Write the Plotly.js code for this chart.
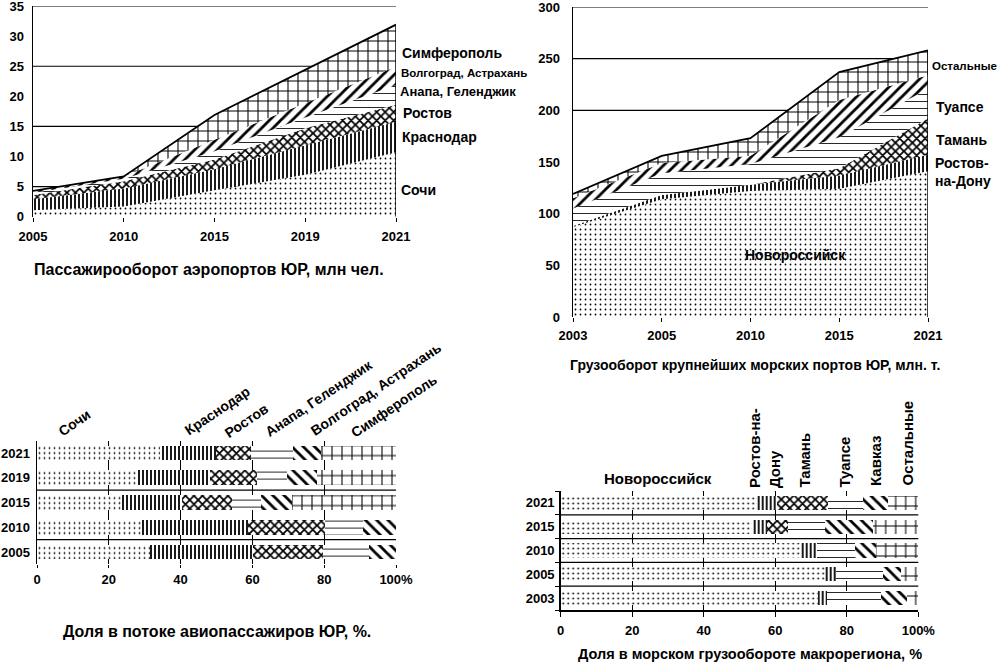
<!DOCTYPE html>
<html><head><meta charset="utf-8">
<script src="https://cdn.plot.ly/plotly-3.0.1.min.js"></script>
<style>html,body{margin:0;padding:0;background:#fff}#chart{width:999px;height:664px}</style>
</head><body><div id="chart"></div>
<script>
// ---- Top-left: airport passenger traffic, mln passengers
const airYears = ['2005', '2010', '2015', '2019', '2021'];
const airSochi = [1.1, 1.7, 4.4, 7.0, 10.7];
const airKrasnodar = [1.8, 3.0, 3.5, 4.9, 5.1];
const airRostov = [0.7, 1.2, 1.6, 2.8, 2.8];
const airAnapa = [0.4, 0.4, 1.4, 1.8, 3.3];
const airVolgograd = [0.3, 0.4, 1.9, 2.3, 3.0];
const airSimferopol = [0, 0, 4.1, 5.6, 7.0];
const airNames = ['Сочи', 'Краснодар', 'Ростов', 'Анапа, Геленджик', 'Волгоград, Астрахань', 'Симферополь'];

// ---- Top-right: cargo turnover of largest sea ports, mln t
const seaYears = ['2003', '2005', '2010', '2015', '2021'];
const seaNovorossiysk = [87, 114, 122, 124, 141];
const seaRostov = [1, 4, 6, 13, 16];
const seaTaman = [0, 0, 0, 7, 35];
const seaTuapse = [17, 21, 20, 30, 29];
const seaKavkaz = [10, 10, 8, 36, 13];
const seaOther = [4, 7, 17, 27, 24];
const seaNames = ['Новороссийск', 'Ростов-на-Дону', 'Тамань', 'Туапсе', 'Кавказ', 'Остальные'];

// ---- Bottom-left: share in air passenger flow, %
const airShareYears = ['2005', '2010', '2015', '2019', '2021'];
const shSochi = [31.6, 29.1, 23.8, 28.2, 34.2];
const shKrasnodar = [28.6, 29.7, 16.7, 19.9, 15.6];
const shRostov = [19.4, 21.4, 13.7, 13.2, 9.7];
const shAnapa = [13.0, 10.5, 8.2, 8.4, 11.7];
const shVolgograd = [7.4, 9.3, 8.5, 8.4, 7.8];
const shSimferopol = [0, 0, 29.1, 21.9, 21.0];

// ---- Bottom-right: share in sea cargo turnover, %
const seaShareYears = ['2003', '2005', '2010', '2015', '2021'];
const ssNovorossiysk = [72.0, 73.9, 67.2, 53.4, 55.0];
const ssRostov = [2.6, 3.0, 4.4, 4.2, 5.6];
const ssTaman = [0, 0, 0, 6.1, 14.2];
const ssTuapse = [15.1, 13.3, 10.7, 10.2, 9.6];
const ssKavkaz = [7.0, 5.1, 6.0, 13.5, 7.2];
const ssOther = [3.3, 4.7, 11.7, 12.6, 8.4];

const shareTicks = [0, 20, 40, 60, 80, 100];
const shareTickText = ['0', '20', '40', '60', '80', '100%'];
const airGridVals = [5, 15, 25, 35];
const seaGridVals = [200, 250, 300];

// ---------- styling helpers ----------
const W = 999, H = 664;
const px = v => v / W;
const py = v => 1 - v / H;
const FONT = 'Liberation Sans, Arial, sans-serif';
function pat(shape, size, solidity) {
  return {shape: shape, size: size, solidity: solidity, fgcolor: 'black', bgcolor: 'white', fgopacity: 1};
}
const areaPatterns = [pat('.', 5, 0.1), pat('|', 4, 0.45), pat('x', 6, 0.5), pat('-', 7, 0.12), pat('/', 8, 0.35), pat('+', 10, 0.2)];
const barPatterns = [pat('.', 5, 0.1), pat('|', 4, 0.45), pat('x', 6, 0.5), pat('-', 7, 0.12), pat('\\', 8, 0.35), pat('+', 10, 0.2)];

const traces = [];
function addArea(xs, series, names, xa, ya, group) {
  series.forEach((vals, i) => {
    traces.push({
      type: 'scatter', mode: 'lines', x: xs, y: vals, xaxis: xa, yaxis: ya,
      stackgroup: group, name: names[i], showlegend: false, hoverinfo: 'skip',
      line: {color: 'black', width: i === series.length - 1 ? 1.8 : 0},
      fillcolor: 'white', fillpattern: areaPatterns[i]
    });
  });
}
function addBars(ys, series, names, xa, ya) {
  series.forEach((vals, i) => {
    traces.push({
      type: 'bar', orientation: 'h', y: ys, x: vals, xaxis: xa, yaxis: ya,
      name: names[i], showlegend: false, hoverinfo: 'skip',
      marker: {color: 'white', line: {width: 0}, pattern: barPatterns[i]}
    });
  });
}
addArea(airYears, [airSochi, airKrasnodar, airRostov, airAnapa, airVolgograd, airSimferopol], airNames, 'x', 'y', 'air');
addArea(seaYears, [seaNovorossiysk, seaRostov, seaTaman, seaTuapse, seaKavkaz, seaOther], seaNames, 'x2', 'y2', 'sea');
addBars(airShareYears, [shSochi, shKrasnodar, shRostov, shAnapa, shVolgograd, shSimferopol], airNames, 'x3', 'y3');
addBars(seaShareYears, [ssNovorossiysk, ssRostov, ssTaman, ssTuapse, ssKavkaz, ssOther], seaNames, 'x4', 'y4');

const lastIdx = airYears.length - 1;
const airTotalLast = [airSochi, airKrasnodar, airRostov, airAnapa, airVolgograd, airSimferopol].reduce((s, a) => s + a[lastIdx], 0);
const seaTotalLast = [seaNovorossiysk, seaRostov, seaTaman, seaTuapse, seaKavkaz, seaOther].reduce((s, a) => s + a[seaYears.length - 1], 0);

const shapes = [];
airGridVals.forEach(v => shapes.push({type: 'line', layer: 'below', xref: 'x domain', yref: 'y', x0: 0, x1: 1, y0: v, y1: v, line: {color: 'black', width: 1.2}}));
seaGridVals.forEach(v => shapes.push({type: 'line', layer: 'below', xref: 'x2 domain', yref: 'y2', x0: 0, x1: 1, y0: v, y1: v, line: {color: 'black', width: 1.2}}));
shapes.push({type: 'line', layer: 'above', xref: 'x', yref: 'y', x0: lastIdx, x1: lastIdx, y0: 0, y1: airTotalLast, line: {color: 'black', width: 1.5}});
shapes.push({type: 'line', layer: 'above', xref: 'x2', yref: 'y2', x0: seaYears.length - 1, x1: seaYears.length - 1, y0: 0, y1: seaTotalLast, line: {color: 'black', width: 1.5}});
[0.5, 2.5].forEach(v => shapes.push({type: 'line', layer: 'above', xref: 'x3 domain', yref: 'y3', x0: 0, x1: 1, y0: v, y1: v, line: {color: 'black', width: 1.3}}));
[0.5, 1.5, 2.5, 3.5].forEach(v => shapes.push({type: 'line', layer: 'above', xref: 'x4 domain', yref: 'y4', x0: 0, x1: 1, y0: v, y1: v, line: {color: 'black', width: 1.2}}));

function ann(text, x, y, opts) {
  return Object.assign({text: text, x: px(x), y: py(y), xref: 'paper', yref: 'paper', showarrow: false,
    xanchor: 'center', yanchor: 'middle', font: {family: FONT, size: 14, color: 'black', weight: 'bold'}}, opts || {});
}
const f = (size) => ({family: FONT, size: size, color: 'black', weight: 'bold'});
const annotations = [
  // titles
  ann('Пассажирооборот аэропортов ЮР, млн чел.', 209, 270, {font: f(16)}),
  ann('Грузооборот крупнейших морских портов ЮР, млн. т.', 755, 365, {font: f(14)}),
  ann('Доля в потоке авиопассажиров ЮР, %.', 217, 631, {font: f(16)}),
  ann('Доля в морском грузообороте макрорегиона, %', 750, 654, {font: f(14.5)}),
  // top-left series labels
  ann('Симферополь', 400, 53, {xanchor: 'left', font: f(14)}),
  ann('Волгоград, Астрахань', 399, 73, {xanchor: 'left', font: f(11.5)}),
  ann('Анапа, Геленджик', 398, 91, {xanchor: 'left', font: f(13)}),
  ann('Ростов', 401, 113, {xanchor: 'left', font: f(14)}),
  ann('Краснодар', 400, 137, {xanchor: 'left', font: f(14)}),
  ann('Сочи', 399, 190, {xanchor: 'left', font: f(14)}),
  // top-right series labels
  ann('Остальные', 931, 66, {xanchor: 'left', font: f(11.5), borderpad: 0}),
  ann('Туапсе', 934, 107, {xanchor: 'left', font: f(14)}),
  ann('Тамань', 934, 140, {xanchor: 'left', font: f(14)}),
  ann('Ростов-<br>на-Дону', 933, 172, {xanchor: 'left', align: 'left', font: f(14)}),
  ann('Новороссийск', 795, 255, {font: f(14)}),
  // bottom-left rotated labels
  ann('Сочи', 74, 423, {textangle: -34}),
  ann('Краснодар', 217, 411, {textangle: -34}),
  ann('Ростов', 246, 421, {textangle: -34}),
  ann('Анапа, Геленджик', 319, 398, {textangle: -34}),
  ann('Волгоград, Астрахань', 376, 389, {textangle: -34}),
  ann('Симферополь', 394, 406, {textangle: -34}),
  // bottom-right labels
  ann('Новороссийск', 658, 478, {font: f(15)}),
  ann('Ростов-на-<br>Дону', 764, 490, {textangle: -90, yanchor: 'bottom', align: 'left', font: f(15)}),
  ann('Тамань', 804, 490, {textangle: -90, yanchor: 'bottom', font: f(15)}),
  ann('Туапсе', 844, 490, {textangle: -90, yanchor: 'bottom', font: f(15)}),
  ann('Кавказ', 875, 488, {textangle: -90, yanchor: 'bottom', font: f(15)}),
  ann('Остальные', 907, 488, {textangle: -90, yanchor: 'bottom', font: f(15)})
];

const tickFont = {family: FONT, size: 13, color: 'black', weight: 'bold'};
const layout = {
  width: W, height: H, margin: {l: 0, r: 0, t: 0, b: 0},
  paper_bgcolor: 'white', plot_bgcolor: 'white', showlegend: false,
  barmode: 'stack', bargap: 0.4,
  font: {family: FONT, size: 13, color: 'black', weight: 'bold'},
  xaxis: {domain: [px(33), px(396)], anchor: 'y', type: 'category', range: [0, 4], showgrid: false, zeroline: false,
    showline: false, ticks: 'outside', ticklen: 4, tickcolor: 'black', ticklabelstandoff: 4, tickfont: tickFont,
    ticklabeloverflow: 'allow'},
  yaxis: {domain: [py(216.8), py(6)], anchor: 'x', range: [0, 35], tickvals: [0, 5, 10, 15, 20, 25, 30, 35], showgrid: false,
    zeroline: false, showline: true, linecolor: 'black', linewidth: 1.5, ticks: '', ticklabelstandoff: 5, tickfont: tickFont,
    ticklabeloverflow: 'allow'},
  xaxis2: {domain: [px(573), px(928)], anchor: 'y2', type: 'category', range: [0, 4], showgrid: false, zeroline: false,
    showline: false, ticks: 'outside', ticklen: 4, tickcolor: 'black', ticklabelstandoff: 2, tickfont: tickFont,
    ticklabeloverflow: 'allow'},
  yaxis2: {domain: [py(317), py(7)], anchor: 'x2', range: [0, 300], tickvals: [0, 50, 100, 150, 200, 250, 300], showgrid: false,
    zeroline: false, showline: true, linecolor: 'black', linewidth: 1.5, ticks: '', ticklabelstandoff: 9, tickfont: tickFont,
    ticklabeloverflow: 'allow'},
  xaxis3: {domain: [px(37), px(396)], anchor: 'y3', range: [0, 100], tickvals: shareTicks, ticktext: shareTickText,
    showgrid: true, gridcolor: 'black', gridwidth: 1.2, zeroline: false, showline: false, ticks: 'outside', ticklen: 3,
    tickcolor: 'black', tickfont: tickFont, ticklabeloverflow: 'allow'},
  yaxis3: {domain: [py(564.4), py(440.6)], anchor: 'x3', type: 'category', categoryarray: airShareYears, categoryorder: 'array',
    range: [-0.5, 4.5], showgrid: false, zeroline: false, showline: true, linecolor: 'black', linewidth: 1.5, ticks: '',
    ticklabelstandoff: 3, tickfont: tickFont, ticklabeloverflow: 'allow'},
  xaxis4: {domain: [px(560.7), px(918.3)], anchor: 'y4', range: [0, 100], tickvals: shareTicks, ticktext: shareTickText,
    showgrid: true, gridcolor: 'black', gridwidth: 1.2, zeroline: false, showline: true, linecolor: 'black', linewidth: 1.5,
    ticks: 'outside', ticklen: 5, tickcolor: 'black', ticklabelstandoff: 3, tickfont: tickFont, ticklabeloverflow: 'allow'},
  yaxis4: {domain: [py(610), py(491)], anchor: 'x4', type: 'category', categoryarray: seaShareYears, categoryorder: 'array',
    range: [-0.5, 4.5], showgrid: false, zeroline: false, showline: true, linecolor: 'black', linewidth: 1.5,
    ticks: 'outside', tickson: 'boundaries', ticklen: 4, tickcolor: 'black', ticklabelstandoff: 2, tickfont: tickFont,
    ticklabeloverflow: 'allow'},
  shapes: shapes,
  annotations: annotations
};
Plotly.newPlot('chart', traces, layout, {staticPlot: true, displayModeBar: false});
</script>
</body></html>
